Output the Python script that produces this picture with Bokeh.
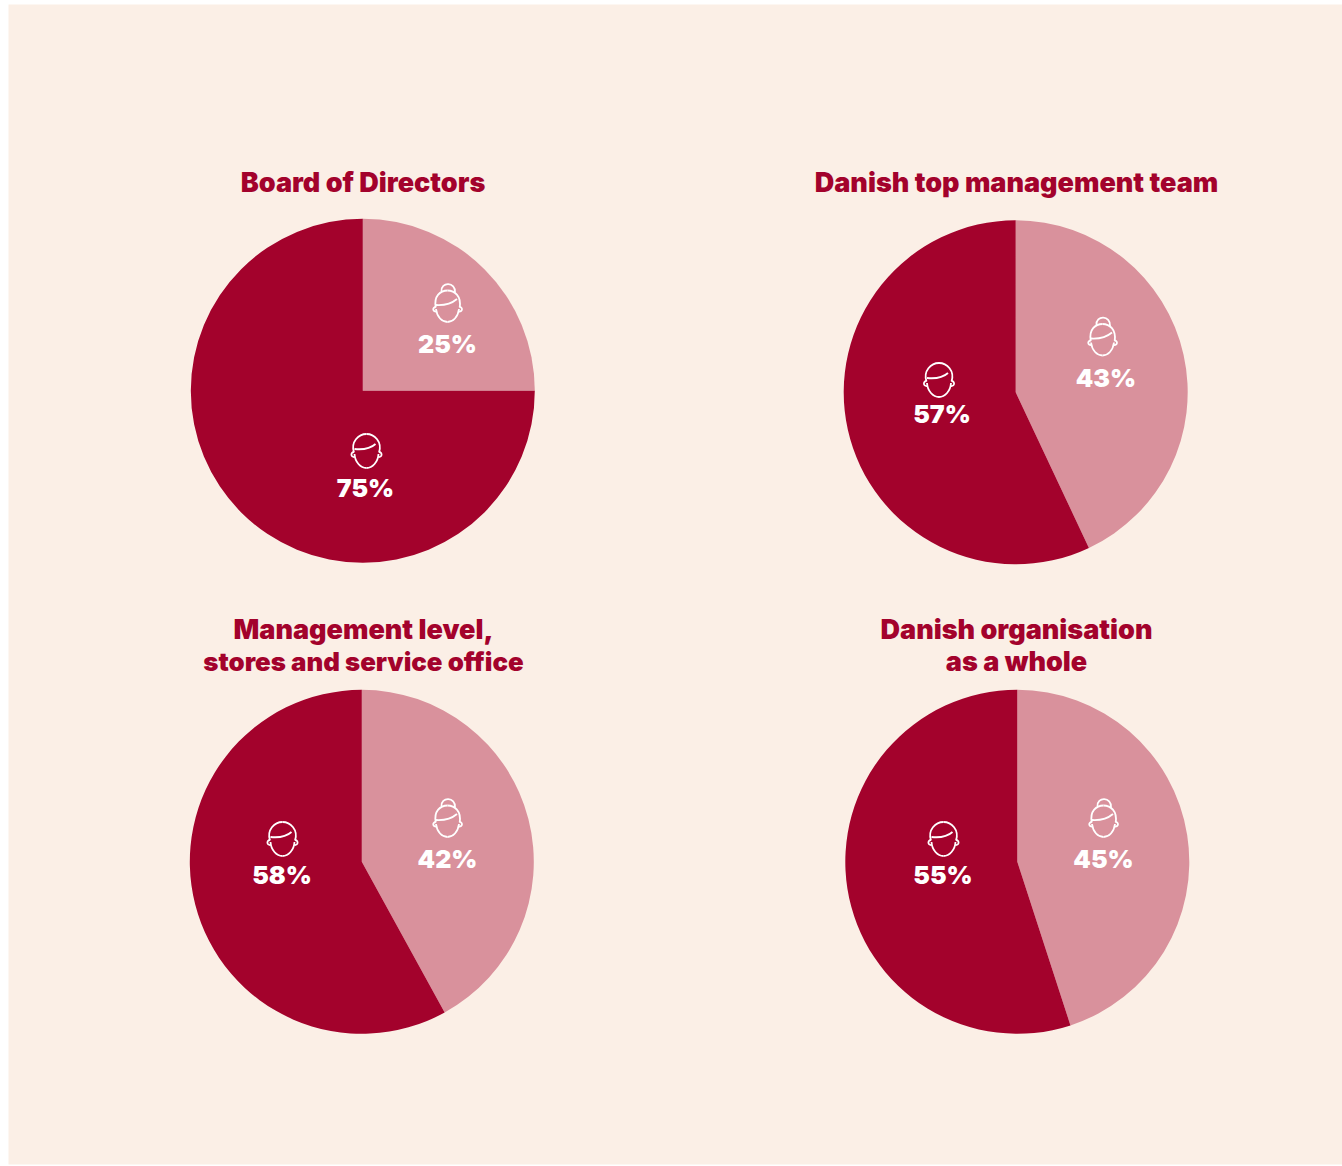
from bokeh.core.properties import value
from bokeh.embed import file_html
from bokeh.models import ColumnDataSource, Range1d
from bokeh.plotting import figure
from bokeh.resources import INLINE
import math

# Share of women and men at each level of the organisation (percent)
groups = ["Board of Directors", "Danish top management team",
          "Management level,\nstores and service office", "Danish organisation\nas a whole"]
women = [25, 43, 42, 45]
men = [75, 57, 58, 55]

W, H = 1342, 1166
PANEL = "#fbefe6"
DARK = "#a3022c"
LIGHT = "#d9919c"
FONT = "Inter Black"

# Layout of each pie in page pixels, measured from the top-left corner
pie_centres = [(362.3, 390.3), (1015.2, 391.8), (361.3, 861.3), (1016.8, 861.3)]
pie_radius = 172
title_centres = [[(362.5, 182)], [(1016, 182)], [(363, 629), (363, 661)], [(1016, 629), (1016, 661)]]
title_sizes = [["27px"], ["27px"], ["27px", "25.8px"], ["27px", "27px"]]
woman_icons = [(447, 305.5), (1102, 339), (447, 820.5), (1103, 820.5)]
man_icons = [(366, 449.5), (938.5, 378.5), (282, 837.5), (943, 837.5)]
woman_labels = [(447, 343), (1105.5, 377.5), (447, 858.5), (1103, 858.5)]
man_labels = [(365, 487), (941.5, 413.5), (281.5, 874.5), (942.5, 874.5)]

# Outline icons as cubic segments: x0, y0, cx0, cy0, cx1, cy1, x1, y1, in px around the face centre
woman_shape = [
    (-11.7, 1.5, -14, -10, -7, -15.5, 0, -15.5),
    (0, -15.5, 7, -15.5, 14, -10, 12.2, 1.5),
    (-11.5, 3, -10.5, 11, -5.5, 16, 0, 16),
    (0, 16, 5.5, 16, 10.5, 11, 11.5, 3),
    (-11.7, 1, -15.2, 1, -15.2, 6, -11, 5.6),
    (12, 1, 15.4, 1, 15.4, 6, 11.2, 5.6),
    (-6, -14.5, -7, -24.5, 8.5, -24.5, 7.5, -13.5),
    (-11.7, -1, -4, -0.5, 3, -1.5, 9.5, -7),
]
man_shape = [
    (-12.5, 2.5, -16, -8, -8, -16, 0, -16),
    (0, -16, 8, -16, 16, -8, 12.5, 2.5),
    (-12, 4, -11.5, 12, -6, 18, 0, 18),
    (0, 18, 6, 18, 11.5, 12, 12, 4),
    (-12.5, 2, -16, 2, -16, 7.5, -12, 7),
    (12.5, 2, 16, 2, 16, 7.5, 12, 7),
    (-12, -1, -2, 0, 4, -1.5, 9, -6),
]


def py(y):
    return H - y


p = figure(width=W, height=H, output_backend="svg", toolbar_location=None,
           x_range=Range1d(0, W), y_range=Range1d(0, H), min_border=0,
           background_fill_color="white", border_fill_color="white", outline_line_color=None)
p.axis.visible = False
p.grid.visible = False

p.quad(left=[8], right=[W], bottom=[py(1164)], top=[py(4)], fill_color=PANEL, line_color=None)

# Pies: both slices run clockwise from twelve o'clock, women first
for (cx, cy), w, m in zip(pie_centres, women, men):
    total = w + m
    split = math.pi / 2 - 2 * math.pi * w / total
    p.wedge(x=[cx], y=[py(cy)], radius=pie_radius, start_angle=[math.pi / 2], end_angle=[split],
            direction="clock", fill_color=LIGHT, line_color=None)
    p.wedge(x=[cx], y=[py(cy)], radius=pie_radius, start_angle=[split], end_angle=[math.pi / 2],
            direction="clock", fill_color=DARK, line_color=None)


def draw_icons(anchors, shape):
    rows = {k: [] for k in ("x0", "y0", "cx0", "cy0", "cx1", "cy1", "x1", "y1")}
    for ax, ay in anchors:
        for x0, y0, c0x, c0y, c1x, c1y, x1, y1 in shape:
            rows["x0"].append(ax + x0)
            rows["y0"].append(py(ay + y0))
            rows["cx0"].append(ax + c0x)
            rows["cy0"].append(py(ay + c0y))
            rows["cx1"].append(ax + c1x)
            rows["cy1"].append(py(ay + c1y))
            rows["x1"].append(ax + x1)
            rows["y1"].append(py(ay + y1))
    p.bezier(x0="x0", y0="y0", x1="x1", y1="y1", cx0="cx0", cy0="cy0", cx1="cx1", cy1="cy1",
             source=ColumnDataSource(rows), line_color="white", line_width=1.8)


draw_icons(woman_icons, woman_shape)
draw_icons(man_icons, man_shape)


def draw_text(xs, ys, texts, color, size):
    p.text(x=xs, y=ys, text=texts, text_color=color, text_font=value(FONT),
           text_font_style="bold", text_font_size=size, text_align="center", text_baseline="middle")


# Percentage labels, built from the same values as the slices
draw_text([c[0] for c in woman_labels], [py(c[1]) for c in woman_labels], [f"{v}%" for v in women], "white", "25px")
draw_text([c[0] for c in man_labels], [py(c[1]) for c in man_labels], [f"{v}%" for v in men], "white", "25px")

# Titles, one text per line
for name, centres, sizes in zip(groups, title_centres, title_sizes):
    for line, (tx, ty), size in zip(name.split("\n"), centres, sizes):
        draw_text([tx], [py(ty)], [line], DARK, size)

open("out.html", "w").write(file_html(p, INLINE))
